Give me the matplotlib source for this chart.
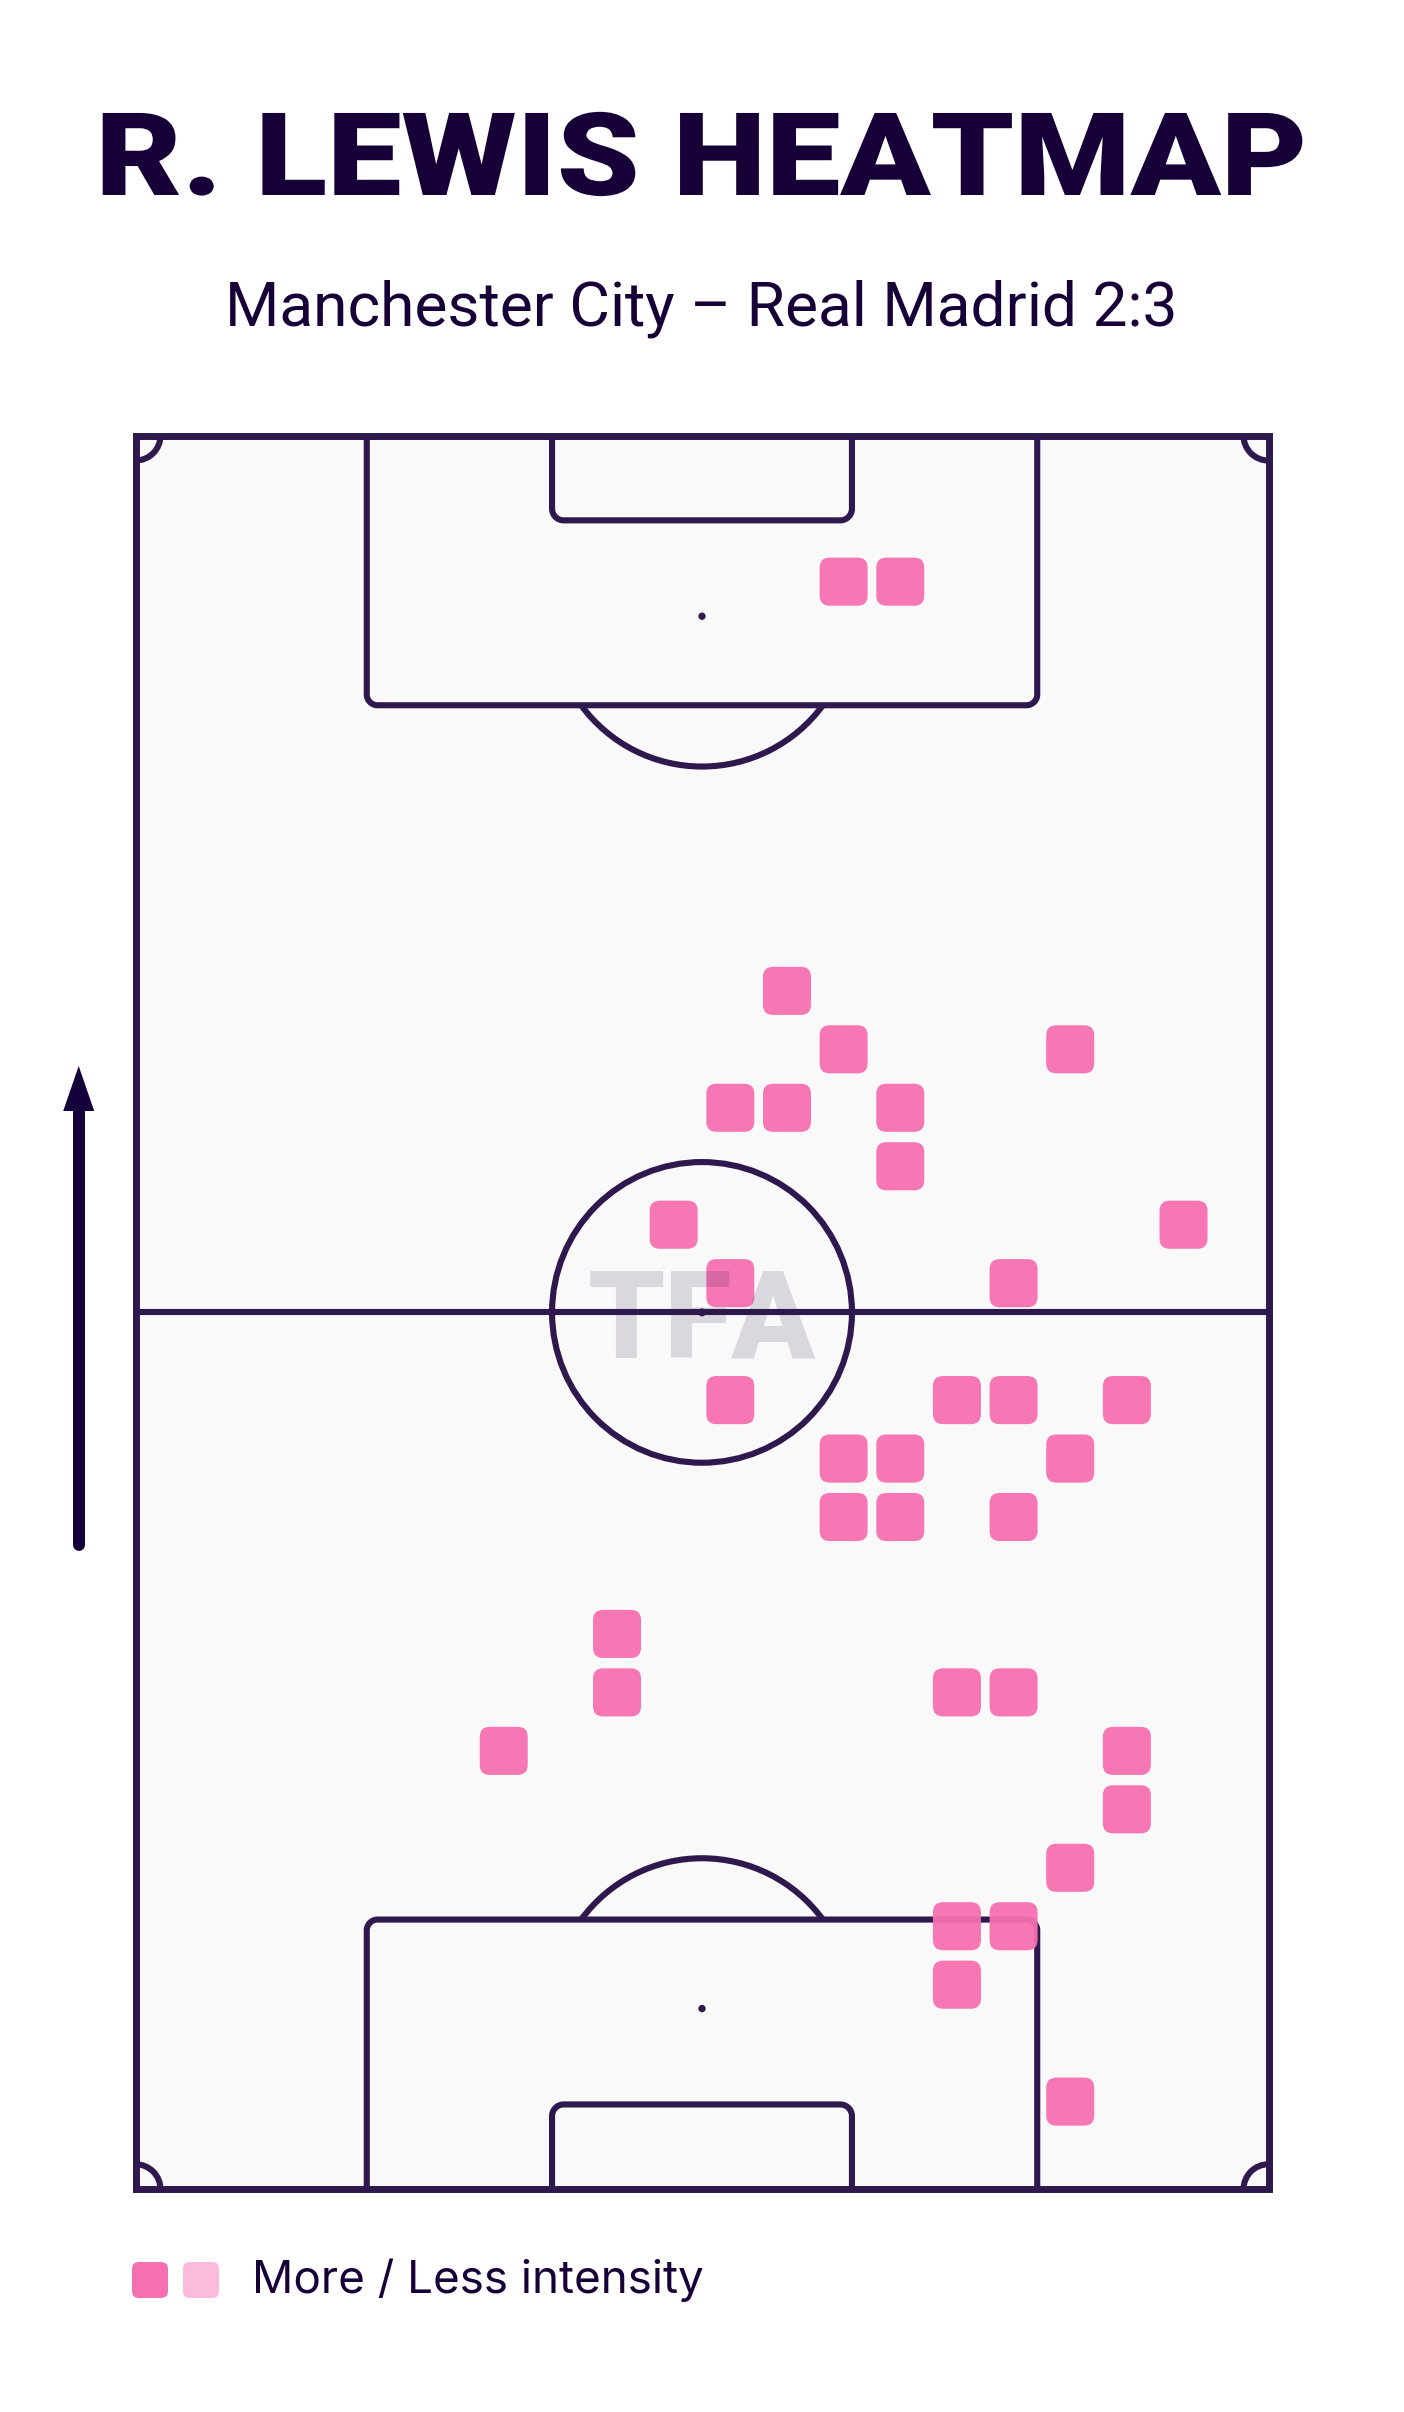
import numpy as np
import matplotlib
matplotlib.use("Agg")
import matplotlib.pyplot as plt
import matplotlib.patheffects as pe
from matplotlib.transforms import Affine2D
from matplotlib.patches import FancyBboxPatch, Arc, Circle, Rectangle, Polygon

# heatmap cells on a 20 x 30 grid (col from left, row from top / attacking end)
cols = [12, 13, 11, 12, 16, 10, 11, 13, 13, 9, 18, 10, 15,
        10, 14, 15, 17, 12, 13, 16, 12, 13, 15,
        8, 8, 14, 15, 6, 17, 17, 16, 14, 15, 14, 16]
rows = [2, 2, 9, 10, 10, 11, 11, 11, 12, 13, 13, 14, 14,
        16, 16, 16, 16, 17, 17, 17, 18, 18, 18,
        20, 21, 21, 21, 22, 22, 23, 24, 25, 25, 26, 28]
n_cols, n_rows = 20, 30

title = "R. LEWIS HEATMAP"
subtitle = "Manchester City \u2013 Real Madrid 2:3"
legend_label = "More / Less intensity"

TITLE_C = "#170038"
LINE = "#2E184E"
PINK = "#F670B0"
PINK_LIGHT = "#FBBBDB"
PITCH_BG = "#F9F9F9"

W, H = 1404, 2412
fig = plt.figure(figsize=(W / 100, H / 100), dpi=100)
fig.patch.set_facecolor("white")


class Squash(pe.AbstractPathEffect):
    # squeeze glyphs vertically around the baseline (display px from bottom)
    def __init__(self, sy, y0):
        super().__init__()
        self.sy, self.y0 = sy, y0

    def draw_path(self, renderer, gc, tpath, affine, rgbFace=None):
        aff = affine + Affine2D().translate(0, -self.y0).scale(1, self.sy).translate(0, self.y0)
        renderer.draw_path(gc, tpath, aff, rgbFace)


# overlay in pixel coords for titles, arrow, legend
bg = fig.add_axes([0, 0, 1, 1])
bg.set_xlim(0, W)
bg.set_ylim(H, 0)
bg.axis("off")

# pitch axes, 68 x 105 m
px0, px1, py0, py1 = 135.5, 1268.5, 435.5, 2189.3
ax = fig.add_axes([px0 / W, 1 - py1 / H, (px1 - px0) / W, (py1 - py0) / H])
L, Wd = 105, 68
ax.set_xlim(0, Wd)
ax.set_ylim(0, L)
ax.axis("off")

lw = 5.0
lw2 = 4.4
ax.add_patch(Rectangle((0, 0), Wd, L, fc=PITCH_BG, ec=LINE, lw=lw,
                       clip_on=False, zorder=1))
ax.plot([0, Wd], [L / 2, L / 2], color=LINE, lw=lw2, zorder=2, solid_capstyle="butt")
ax.add_patch(Circle((Wd / 2, L / 2), 9.0, fill=False, ec=LINE, lw=lw2, zorder=2))
ax.add_patch(Circle((Wd / 2, L / 2), 0.24, fc=LINE, ec="none", zorder=2))


def box(half_w, depth, r, top):
    x0, x1 = Wd / 2 - half_w, Wd / 2 + half_w
    a1 = np.linspace(np.pi, np.pi / 2, 20)
    a2 = np.linspace(np.pi / 2, 0, 20)
    xs = np.concatenate([[x0], x0 + r + r * np.cos(a1), x1 - r + r * np.cos(a2), [x1]])
    ys = np.concatenate([[0], depth - r + r * np.sin(a1), depth - r + r * np.sin(a2), [0]])
    if top:
        ys = L - ys
    ax.plot(xs, ys, color=LINE, lw=lw2, zorder=2, solid_capstyle="butt")


for top in (False, True):
    box(20.12, 16.15, 0.65, top)
    box(9.0, 5.08, 0.7, top)
    spot_y = L - 10.82 if top else 10.82
    ax.add_patch(Circle((Wd / 2, spot_y), 0.22, fc=LINE, ec="none", zorder=2))
    th = np.degrees(np.arcsin((16.15 - 10.82) / 9.0))
    if top:
        ax.add_patch(Arc((Wd / 2, spot_y), 18, 18, theta1=180 + th, theta2=360 - th,
                         color=LINE, lw=lw2, zorder=2))
    else:
        ax.add_patch(Arc((Wd / 2, spot_y), 18, 18, theta1=th, theta2=180 - th,
                         color=LINE, lw=lw2, zorder=2))

# corner arcs
for (cx, cy, t1) in [(0, 0, 0), (Wd, 0, 90), (Wd, L, 180), (0, L, 270)]:
    ax.add_patch(Arc((cx, cy), 3.0, 3.0, theta1=t1, theta2=t1 + 90,
                     color=LINE, lw=lw2, zorder=2))

# heatmap squares
cw, ch = Wd / n_cols, L / n_rows
sq = 2.88
for c, r in zip(cols, rows):
    cx = (c + 0.5) * cw
    cy = L - (r + 0.5) * ch
    ax.add_patch(FancyBboxPatch((cx - sq / 2, cy - sq / 2), sq, sq,
                                boxstyle="round,pad=0,rounding_size=0.6",
                                fc=PINK, ec="none", alpha=0.95, zorder=3))

# watermark
wm = ax.text(Wd / 2, (py1 - 1357) / ((py1 - py0) / L), "TFA", ha="center", va="baseline",
             fontsize=90, family="Roboto", fontweight="black", color=LINE,
             alpha=0.15, zorder=5)

# titles
t1 = bg.text(701, 195, title, ha="center", va="baseline", fontsize=84,
             family="Roboto", fontweight="black", color=TITLE_C)
t2 = bg.text(701.5, 326, subtitle, ha="center", va="baseline", fontsize=40,
             family="Roboto", color=TITLE_C)

# direction arrow
ARROW = "#14003A"
bg.plot([78.5, 78.5], [1545, 1105], color=ARROW, lw=8.6, solid_capstyle="round")
bg.add_patch(Polygon([[63.2, 1111], [94.2, 1111], [78.7, 1066]], closed=True,
                     fc=ARROW, ec="none"))

# legend
for x0, col in [(132, PINK), (183, PINK_LIGHT)]:
    bg.add_patch(FancyBboxPatch((x0, 2262), 36, 36,
                                boxstyle="round,pad=0,rounding_size=7",
                                fc=col, ec="none"))
t3 = bg.text(251.7, 2292.7, legend_label, ha="left", va="baseline", fontsize=32,
             family="Inter", color=TITLE_C)


def fit(t, target):
    fig.canvas.draw()
    bb = t.get_window_extent()
    t.set_fontsize(t.get_fontsize() * target / bb.width)


fit(t1, 1212)
fit(t2, 953)
fit(t3, 452)
fit(wm, 228)

# title caps in the reference are wider than tall: squash to 84 px cap height
t1.set_path_effects([Squash(0.87, H - 195)])

fig.savefig("out.png", dpi=100, facecolor="white")
